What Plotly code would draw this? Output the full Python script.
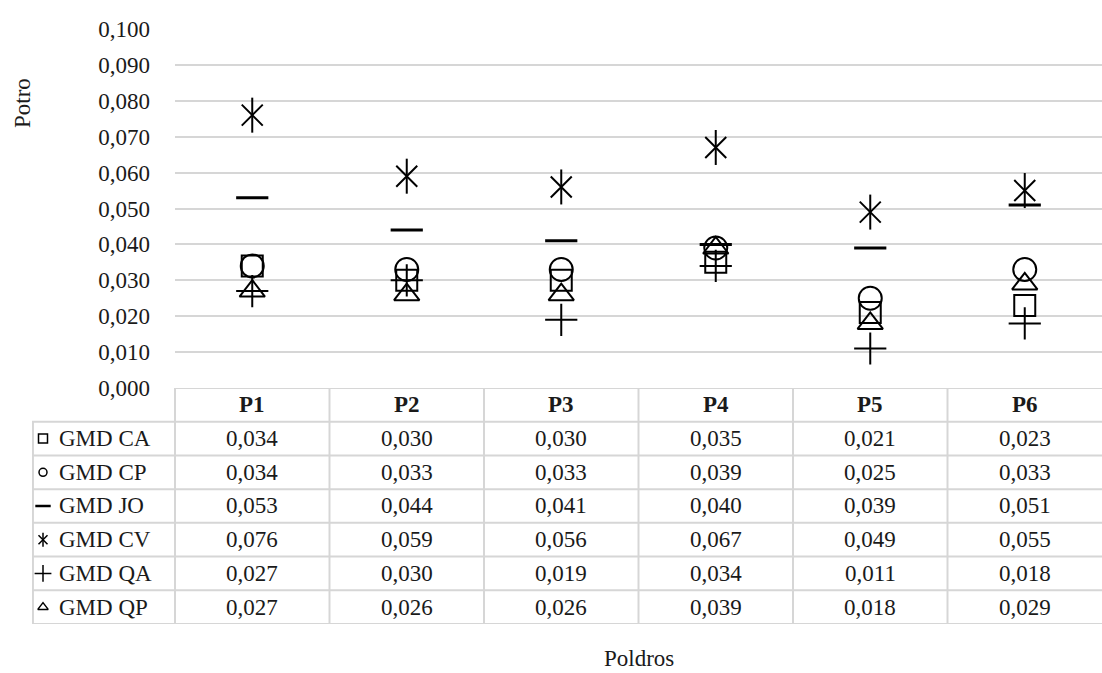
import plotly.graph_objects as go

# Foals (x categories) and GMD values per treatment
categories = ["P1", "P2", "P3", "P4", "P5", "P6"]
series_names = ["GMD CA", "GMD CP", "GMD JO", "GMD CV", "GMD QA", "GMD QP"]
gmd_ca = [0.034, 0.030, 0.030, 0.035, 0.021, 0.023]
gmd_cp = [0.034, 0.033, 0.033, 0.039, 0.025, 0.033]
gmd_jo = [0.053, 0.044, 0.041, 0.040, 0.039, 0.051]
gmd_cv = [0.076, 0.059, 0.056, 0.067, 0.049, 0.055]
gmd_qa = [0.027, 0.030, 0.019, 0.034, 0.011, 0.018]
gmd_qp = [0.027, 0.026, 0.026, 0.039, 0.018, 0.029]
y_ticks = [0.0, 0.01, 0.02, 0.03, 0.04, 0.05, 0.06, 0.07, 0.08, 0.09, 0.10]

all_series = [gmd_ca, gmd_cp, gmd_jo, gmd_cv, gmd_qa, gmd_qp]

W, H = 1102, 673
FONT = "Liberation Serif"
FS = 23
GRID = "#d6d6d6"

# pixel geometry of plot and table
plot_left, plot_top, plot_bottom = 175, 28, 388
table_left, table_bottom = 32, 624
col_w = (W - plot_left) / len(categories)
label_w = plot_left - table_left
x2_min = -0.5 - label_w / col_w
y_top = 0.1 + 1.0 / (plot_bottom - plot_top) * 0.1  # keep the 0,100 gridline visible

# marker styles (symbol, size, line width) per series; CV uses two overlaid glyphs
styles = [
    [("square-open", 21, 2)],
    [("circle-open", 23, 2)],
    [("line-ew-open", 23, 3)],
    [("x-thin-open", 21, 2), ("line-ns-open", 25, 2)],
    [("cross-thin-open", 23, 2)],
    [("triangle-up-open", 22, 2)],
]
legend_styles = [
    [("square-open", 9, 1.5)],
    [("circle-open", 8, 1.5)],
    [("line-ew-open", 11, 2.5)],
    [("x-thin-open", 9, 1.5), ("line-ns-open", 10, 1.5)],
    [("cross-thin-open", 12, 1.5)],
    [("triangle-up-open", 9, 1.5)],
]

fig = go.Figure()

for name, vals, st in zip(series_names, all_series, styles):
    for sym, size, lw in st:
        fig.add_trace(go.Scatter(
            x=categories, y=vals, mode="markers", name=name, showlegend=False,
            marker=dict(symbol=sym, size=size, color="black",
                        line=dict(color="black", width=lw)),
            xaxis="x", yaxis="y", hoverinfo="skip",
        ))

# legend glyphs inside the data table
glyph_x = x2_min + 11 / col_w
for r, (name, st) in enumerate(zip(series_names, legend_styles), start=1):
    for sym, size, lw in st:
        fig.add_trace(go.Scatter(
            x=[glyph_x], y=[r + 0.5], mode="markers", showlegend=False,
            marker=dict(symbol=sym, size=size, color="black",
                        line=dict(color="black", width=lw)),
            xaxis="x2", yaxis="y2", hoverinfo="skip",
        ))

shapes = []
line_style = dict(color=GRID, width=2)
n_rows = len(series_names) + 1
# horizontal table rules
shapes.append(dict(type="line", xref="x2", yref="y2", x0=-0.5, x1=5.5,
                   y0=0, y1=0, line=line_style, layer="below"))
for r in range(1, n_rows + 1):
    shapes.append(dict(type="line", xref="x2", yref="y2", x0=x2_min, x1=5.5,
                       y0=r, y1=r, line=line_style, layer="below"))
# vertical table rules
for c in range(len(categories)):
    shapes.append(dict(type="line", xref="x2", yref="y2", x0=c - 0.5, x1=c - 0.5,
                       y0=0, y1=n_rows, line=line_style, layer="below"))
shapes.append(dict(type="line", xref="x2", yref="y2", x0=x2_min + 0.006, x1=x2_min + 0.006,
                   y0=1, y1=n_rows, line=line_style, layer="below"))

annotations = []
tfont = dict(family=FONT, size=FS, color="#1a1a1a")
for c, cat in enumerate(categories):
    annotations.append(dict(x=c, y=0.5, xref="x2", yref="y2", text=f"<b>{cat}</b>",
                            showarrow=False, font=tfont))
for r, (name, vals) in enumerate(zip(series_names, all_series), start=1):
    annotations.append(dict(x=x2_min + 25 / col_w, y=r + 0.5, xref="x2", yref="y2",
                            text=name, showarrow=False, xanchor="left", font=tfont))
    for c, v in enumerate(vals):
        annotations.append(dict(x=c, y=r + 0.5, xref="x2", yref="y2",
                                text=f"{v:.3f}".replace(".", ","),
                                showarrow=False, font=tfont))

annotations.append(dict(x=22 / W, y=1 - 103 / H, xref="paper", yref="paper", text="Potro",
                        textangle=-90, showarrow=False, font=tfont,
                        xanchor="center", yanchor="middle", borderpad=0))
annotations.append(dict(x=639 / W, y=1 - 658 / H, xref="paper", yref="paper", text="Poldros",
                        showarrow=False, font=tfont, xanchor="center", yanchor="middle",
                        borderpad=0))

fig.update_layout(
    width=W, height=H,
    margin=dict(l=0, r=0, t=0, b=0, autoexpand=False),
    paper_bgcolor="white", plot_bgcolor="white",
    separators=",.",
    font=dict(family=FONT, size=FS, color="#1a1a1a"),
    xaxis=dict(domain=[plot_left / W, 1], range=[-0.5, 5.5], type="category",
               showgrid=False, zeroline=False, showticklabels=False, showline=False,
               automargin=False, fixedrange=True),
    yaxis=dict(domain=[1 - plot_bottom / H, 1 - plot_top / H], range=[0, y_top],
               tickvals=y_ticks, tickformat=".3f", showgrid=True, gridcolor=GRID,
               gridwidth=2, zeroline=False, showline=False, ticks="",
               ticklabelstandoff=24, tickfont=tfont, automargin=False, fixedrange=True),
    xaxis2=dict(domain=[table_left / W, 1], range=[x2_min, 5.5], showgrid=False,
                zeroline=False, showticklabels=False, anchor="y2", automargin=False,
                fixedrange=True),
    yaxis2=dict(domain=[1 - table_bottom / H, 1 - plot_bottom / H], range=[n_rows, 0],
                showgrid=False, zeroline=False, showticklabels=False, anchor="x2",
                automargin=False, fixedrange=True),
    shapes=shapes,
    annotations=annotations,
    showlegend=False,
)

fig.write_html("out.html")
